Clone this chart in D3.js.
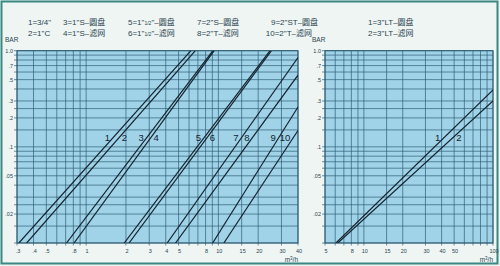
<!DOCTYPE html>
<html>
<head>
<meta charset="utf-8">
<script src="https://cdn.jsdelivr.net/npm/d3@7"></script>
<style>
  html, body { margin: 0; padding: 0; background: #eef5f3; }
  svg { display: block; }
  text { font-family: "Liberation Sans", "Noto Sans CJK SC", sans-serif; }
</style>
</head>
<body>
<svg id="chart" width="500" height="266"></svg>
<script>
// ---- axis ticks ----
const leftFlowTicks = [0.3, 0.4, 0.5, 0.8, 1, 2, 3, 4, 5, 8, 10, 15, 20, 30, 40];
const leftFlowTickText = [".3", ".4", ".5", ".8", "1", "2", "3", "4", "5", "8", "10", "15", "20", "30", "40"];
const rightFlowTicks = [5, 8, 10, 15, 20, 30, 40, 50, 100];
const rightFlowTickText = ["5", "8", "10", "15", "20", "30", "40", "50", "100"];
const barTicks = [1, 0.7, 0.5, 0.3, 0.2, 0.1, 0.05, 0.02];
const barTickText = ["1.0", ".7", ".5", ".3", ".2", ".1", ".05", ".02"];
const extraBarGrid = [0.015, 0.025, 0.15, 0.25];

// ---- pressure-drop curves, left panel (flow m3/h, pressure BAR) ----
const leftCurveNames = ["1", "2", "3", "4", "5", "6", "7", "8", "9", "10"];
const leftFlowAtMinBar = [0.31, 0.355, 0.71, 0.81, 1.94, 2.11, 4.1, 4.74, 9.05, 11.0];
const leftFlowAtEnd = [6.2, 6.7, 9.1, 9.3, 24.6, 25.2, 40, 40, 40, 40];
const leftBarAtEnd = [1, 1, 1, 1, 1, 1, 0.85, 0.556, 0.26, 0.148];
const leftLabelSide = [-1, 1, -1, 1, -1, 1, -1, -1, -1, -1];

// ---- pressure-drop curves, right panel ----
const rightCurveNames = ["1", "2"];
const rightFlowAtMinBar = [6.08, 6.29];
const rightFlowAtEnd = [100, 100];
const rightBarAtEnd = [0.39, 0.30];
const rightLabelSide = [-1, 1];

// ---- legend ----
const legendLeftColumns = [
  ["1=3/4\"", "2=1\"C"],
  ["3=1\"S–圆盘", "4=1\"S–滤网"],
  ["5=1\"|1/2|\"–圆盘", "6=1\"|1/2|\"–滤网"],
  ["7=2\"S–圆盘", "8=2\"T–滤网"],
  ["9=2\"ST–圆盘", "10=2\"T–滤网"]
];
const legendRightColumn = ["1=3\"LT–圆盘", "2=3\"LT–滤网"];

const svg = d3.select("#chart");
const minBar = 0.01;
const labelBar = 0.124;

const C = {
  frame: "#3a8783",
  plotFill: "#a0d3e8",
  grid: "#2b5a72",
  curve: "#14232e",
  text: "#2c4450"
};

// outer frame
svg.append("rect").attr("x", 1.5).attr("y", 1.5).attr("width", 496).attr("height", 262)
  .attr("fill", "#eef5f3").attr("stroke", C.frame).attr("stroke-width", 2);

function panel(opt) {
  const x = d3.scaleLog().domain(opt.xDomain).range(opt.xRange);
  const y = d3.scaleLog().domain([minBar, 1]).range([243, 50.7]);
  const g = svg.append("g");
  const [x0, x1] = opt.xRange;
  const [yb, yt] = [243, 50.7];

  g.append("rect").attr("x", x0).attr("y", yt).attr("width", x1 - x0).attr("height", yb - yt)
    .attr("fill", C.plotFill);

  // vertical grid
  const xGrid = x.ticks().concat([15]).filter(v => v >= opt.xDomain[0] && v <= opt.xDomain[1]);
  g.append("g").selectAll("line").data(xGrid).join("line")
    .attr("x1", d => x(d)).attr("x2", d => x(d))
    .attr("y1", yt).attr("y2", yb + 2.5)
    .attr("stroke", C.grid).attr("stroke-width", 0.8).attr("stroke-opacity", 0.85);

  // horizontal grid
  const yGrid = y.ticks().concat(extraBarGrid);
  g.append("g").selectAll("line").data(yGrid).join("line")
    .attr("x1", x0 - 3).attr("x2", x1)
    .attr("y1", d => y(d)).attr("y2", d => y(d))
    .attr("stroke", C.grid).attr("stroke-width", 0.8).attr("stroke-opacity", 0.85);

  // frame of plot
  g.append("rect").attr("x", x0).attr("y", yt).attr("width", x1 - x0).attr("height", yb - yt)
    .attr("fill", "none").attr("stroke", C.grid).attr("stroke-width", 1);

  // y tick labels
  g.append("g").selectAll("text").data(barTicks).join("text")
    .attr("x", x0 - 4).attr("y", d => y(d) + 2)
    .attr("text-anchor", "end").attr("font-size", 5.5).attr("fill", C.text)
    .text((d, i) => barTickText[i]);

  // x tick labels
  g.append("g").selectAll("text").data(opt.xTicks).join("text")
    .attr("x", d => x(d) + 1).attr("y", 253)
    .attr("text-anchor", "middle").attr("font-size", 5.5).attr("fill", C.text)
    .text((d, i) => opt.xTickText[i]);

  // axis captions
  g.append("text").attr("x", opt.barX).attr("y", 42).attr("font-size", 6.5)
    .attr("fill", C.text).text("BAR");
  const unit = g.append("text").attr("x", x1).attr("y", 262).attr("text-anchor", "end")
    .attr("font-size", 6.5).attr("fill", C.text);
  unit.append("tspan").text("m");
  unit.append("tspan").attr("font-size", 4.5).attr("dy", -2.5).text("3");
  unit.append("tspan").attr("dy", 2.5).text("/h");

  // curves
  const clipId = "clip" + opt.id;
  svg.append("clipPath").attr("id", clipId).append("rect")
    .attr("x", x0).attr("y", yt).attr("width", x1 - x0).attr("height", yb - yt);
  const line = d3.line().x(d => x(d[0])).y(d => y(d[1]));
  const curves = opt.names.map((n, i) => ({
    name: n,
    pts: [[opt.flowMin[i], minBar], [opt.flowEnd[i], opt.barEnd[i]]],
    side: opt.side[i]
  }));
  g.append("g").attr("clip-path", `url(#${clipId})`)
    .selectAll("path").data(curves).join("path")
    .attr("d", d => line(d.pts))
    .attr("fill", "none").attr("stroke", C.curve).attr("stroke-width", 1.2);

  // curve numbers, placed beside each curve at a fixed pressure level
  const flowAt = (d, bar) => {
    const [[fa, ba], [fb, bb]] = d.pts;
    const t = (Math.log(bar) - Math.log(ba)) / (Math.log(bb) - Math.log(ba));
    return Math.exp(Math.log(fa) + t * (Math.log(fb) - Math.log(fa)));
  };
  g.append("g").selectAll("text").data(curves).join("text")
    .attr("x", d => x(flowAt(d, labelBar)) + d.side * opt.gap)
    .attr("y", y(labelBar) + 3.3)
    .attr("text-anchor", d => d.side < 0 ? "end" : "start")
    .attr("font-size", 9.5).attr("fill", C.curve)
    .text(d => d.name);
}

panel({
  id: "L", xDomain: [0.3, 40], xRange: [17, 298],
  xTicks: leftFlowTicks, xTickText: leftFlowTickText, barX: 5,
  names: leftCurveNames, flowMin: leftFlowAtMinBar, flowEnd: leftFlowAtEnd,
  barEnd: leftBarAtEnd, side: leftLabelSide, gap: 2.8
});
panel({
  id: "R", xDomain: [5, 100], xRange: [325, 493],
  xTicks: rightFlowTicks, xTickText: rightFlowTickText, barX: 312,
  names: rightCurveNames, flowMin: rightFlowAtMinBar, flowEnd: rightFlowAtEnd,
  barEnd: rightBarAtEnd, side: rightLabelSide, gap: 3.5
});

// legend: entries in a column line up on the "=" sign
function legendItem(x, yBase, str) {
  const lead = str.indexOf("=") > 1 ? 5.2 : 0;
  const t = svg.append("text").attr("x", x - lead).attr("y", yBase)
    .attr("font-size", 8).attr("fill", C.text);
  str.split("|").forEach((part, i) => {
    const s = t.append("tspan").text(part);
    if (i === 1) s.attr("font-size", 5);
  });
}
const legendX = [28, 63, 128, 197, 271];
legendLeftColumns.forEach((col, ci) => {
  col.forEach((s, ri) => legendItem(legendX[ci], 25.2 + ri * 11, s));
});
legendRightColumn.forEach((s, ri) => legendItem(368, 25.2 + ri * 11, s));
</script>
</body>
</html>
